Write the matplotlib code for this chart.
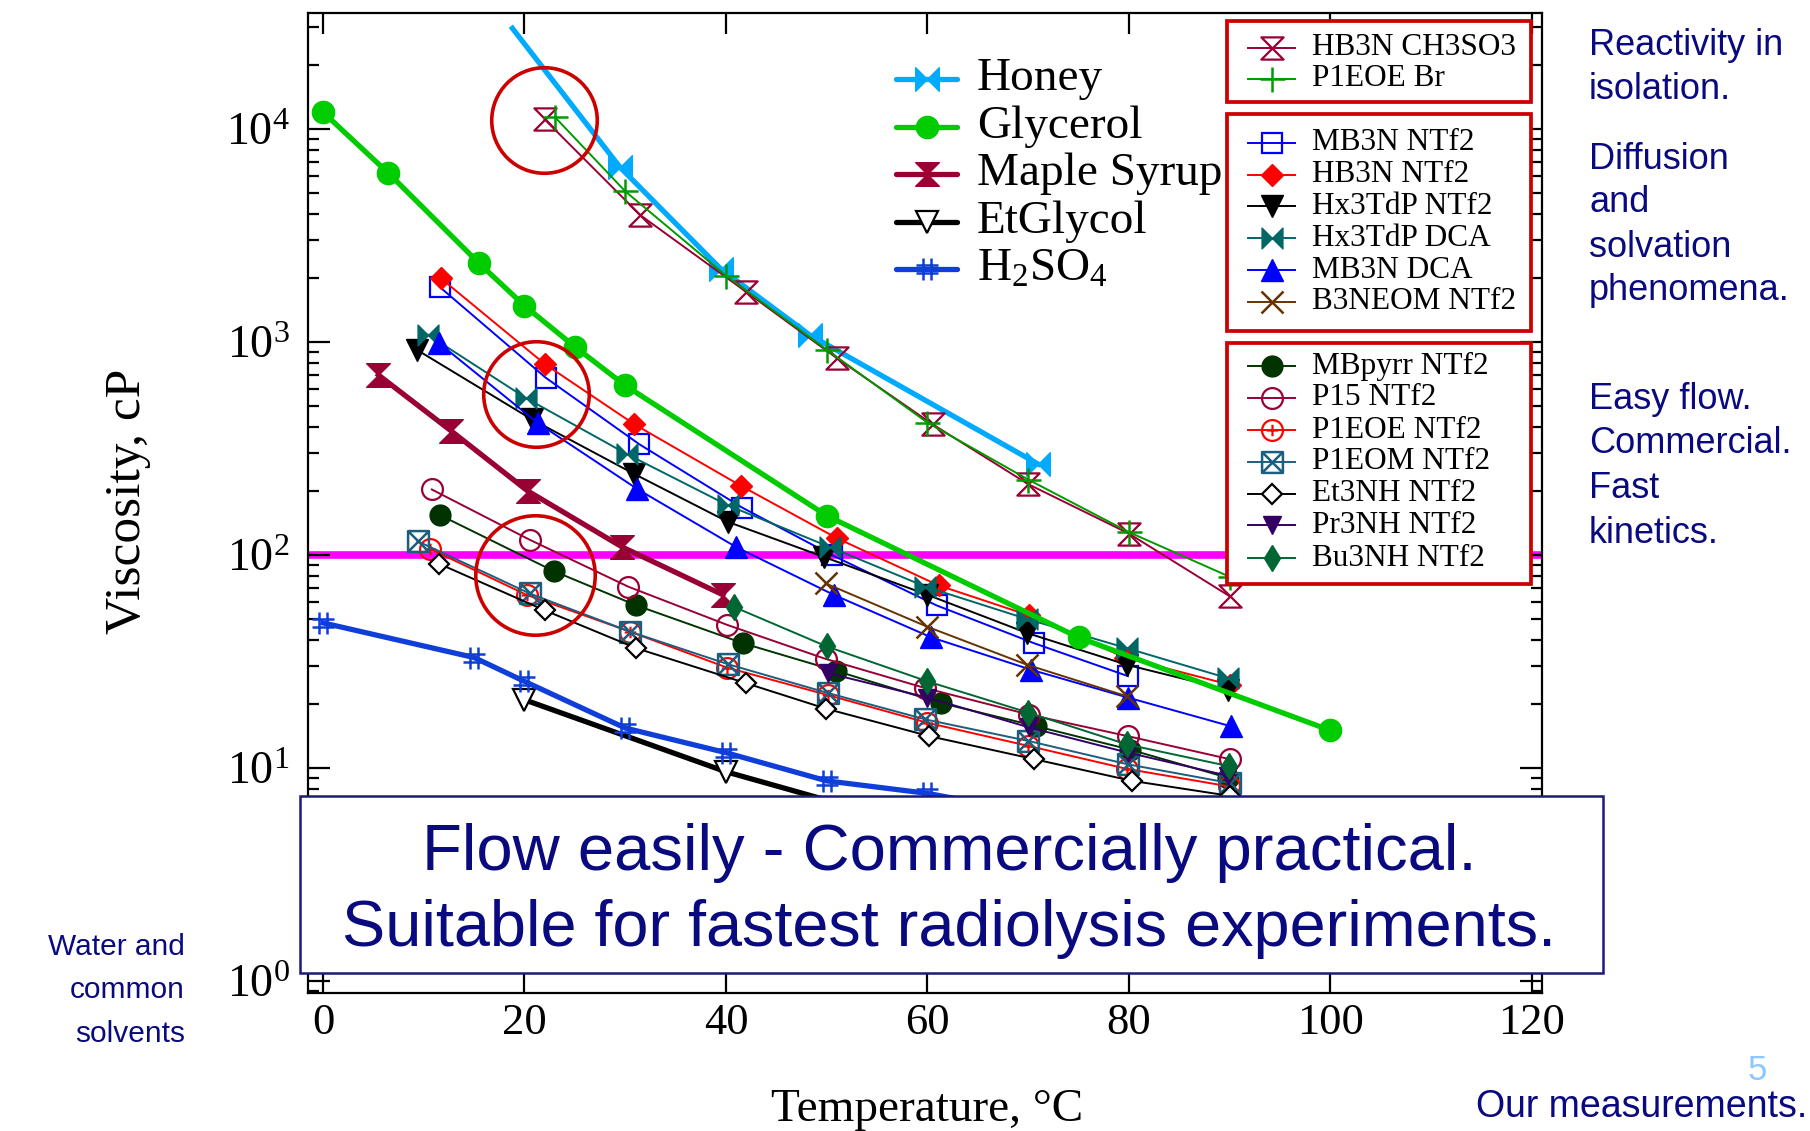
import numpy as np
import matplotlib
matplotlib.use("Agg")
import matplotlib.pyplot as plt
from matplotlib.path import Path
from matplotlib.lines import Line2D
from matplotlib.patches import Rectangle
from matplotlib.ticker import LogLocator, NullFormatter, NullLocator

plt.rcParams['font.family'] = ['Liberation Serif', 'DejaVu Serif']
plt.rcParams['mathtext.fontset'] = 'custom'
plt.rcParams['mathtext.rm'] = 'Liberation Serif'
plt.rcParams['mathtext.it'] = 'Liberation Serif:italic'
plt.rcParams['mathtext.bf'] = 'Liberation Serif:bold'
plt.rcParams['mathtext.default'] = 'rm'

# ---------------- data (temperature in C, viscosity in cP) ----------------
honey_T = [18.8, 29.5, 39.5, 48.3, 71.0]
honey_v = [29700, 6600, 2200, 1080, 267]
glycerol_T = [0, 6.5, 15.5, 20, 25, 30, 50, 75, 100]
glycerol_v = [12000, 6200, 2340, 1480, 950, 625, 153, 41, 15]
maple_T = [5.5, 12.7, 20.3, 29.7, 39.7]
maple_v = [700, 383, 200, 109, 65]
etglycol_T = [20, 40, 60, 80]
etglycol_v = [20.9, 9.6, 5.2, 3.3]
h2so4_T = [0, 15, 20, 30, 40, 50, 60, 70, 80]
h2so4_v = [48, 33, 25.5, 15.4, 11.8, 8.7, 7.6, 6.2, 5.2]

hb3n_ch3so3_T = [22, 31.5, 42, 51, 60.5, 70, 80, 90]
hb3n_ch3so3_v = [11100, 3940, 1720, 840, 411, 215, 126, 64]
p1eoe_br_T = [23, 30, 40, 50, 60, 70, 80, 90]
p1eoe_br_v = [11400, 5100, 2050, 920, 418, 226, 128, 79]

mb3n_ntf2_T = [11.6, 22.1, 31.4, 41.6, 50.5, 60.9, 70.6, 79.9]
mb3n_ntf2_v = [1810, 680, 331, 167, 100, 58, 38.5, 27]
hb3n_ntf2_T = [11.7, 22, 30.9, 41.5, 51, 61.1, 70.1, 79.6, 90]
hb3n_ntf2_v = [1990, 789, 411, 211, 120, 72, 52, 33, 24.6]
hx3tdp_ntf2_T = [9.3, 20.7, 30.9, 40.2, 49.7, 60, 69.9, 79.8, 89.8]
hx3tdp_ntf2_v = [920, 434, 240, 143, 98, 65, 43, 30.5, 23.3]
hx3tdp_dca_T = [10.4, 20.1, 30.2, 40.2, 50.3, 59.8, 69.9, 79.8, 89.8]
hx3tdp_dca_v = [1082, 547, 297, 171, 109, 71, 50, 36.5, 26.4]
mb3n_dca_T = [11.5, 21.3, 31.2, 41, 50.7, 60.4, 70.3, 79.9, 90.1]
mb3n_dca_v = [989, 417, 204, 109, 65, 41, 28.9, 21.4, 15.7]
b3neom_ntf2_T = [49.9, 60, 69.9, 79.8]
b3neom_ntf2_v = [73.5, 46, 30.5, 21.7]

mbpyrr_ntf2_T = [11.6, 22.9, 31.1, 41.7, 50.9, 61.3, 70.8, 80.1, 89.8]
mbpyrr_ntf2_v = [154, 84, 58, 38.5, 28.6, 20.2, 15.7, 12.2, 9.0]
p15_ntf2_T = [10.8, 20.5, 30.3, 40.1, 49.9, 59.8, 70.1, 79.9, 90]
p15_ntf2_v = [203, 118, 71, 47, 32.5, 23.7, 17.8, 14.1, 11]
p1eoe_ntf2_T = [10.6, 20.2, 30.5, 40.1, 50.1, 60, 70, 79.8, 89.9]
p1eoe_ntf2_v = [107, 65, 43.6, 29.6, 22, 16.3, 12.7, 9.9, 8.2]
p1eom_ntf2_T = [9.4, 20.5, 30.5, 40.2, 50.1, 59.8, 70, 79.9, 90]
p1eom_ntf2_v = [116, 66, 43.6, 30.7, 22.5, 16.9, 13.4, 10.4, 8.5]
et3nh_ntf2_T = [11.5, 22, 31.1, 42, 49.9, 60.2, 70.6, 80.3, 90]
et3nh_ntf2_v = [91, 55, 36.5, 25, 19, 14.1, 11, 8.7, 7.4]
pr3nh_ntf2_T = [50.1, 60, 70.1, 79.9, 89.8]
pr3nh_ntf2_v = [27.9, 21.4, 15.5, 11.8, 9.2]
bu3nh_ntf2_T = [40.8, 50, 60, 70, 79.8, 89.9]
bu3nh_ntf2_v = [57, 37.2, 25.5, 18.2, 12.9, 10.2]

threshold_v = 100
highlight_T = [21.9, 21.1, 21.0]
highlight_v = [11060, 570, 80.4]

xticks = [0, 20, 40, 60, 80, 100, 120]

# ---------------- markers ----------------
M, L, C = Path.MOVETO, Path.LINETO, Path.CLOSEPOLY
bowtie = Path([(-1, -1), (0, 0), (-1, 1), (-1, -1), (1, -1), (0, 0), (1, 1), (1, -1)],
              [M, L, L, C, M, L, L, C])
hourglass = Path([(-1, 1), (1, 1), (0, 0), (-1, 1), (-1, -1), (1, -1), (0, 0), (-1, -1)],
                 [M, L, L, C, M, L, L, C])
hashm = Path([(-0.35, -1), (-0.35, 1), (0.35, -1), (0.35, 1),
              (-1, -0.35), (1, -0.35), (-1, 0.35), (1, 0.35)], [M, L, M, L, M, L, M, L])
circ_plus = Path.make_compound_path(
    Path.unit_circle(),
    Path([(-0.55, 0), (0.55, 0), (0, -0.55), (0, 0.55)], [M, L, M, L]))
sq_x = Path([(-1, -1), (1, -1), (1, 1), (-1, 1), (-1, -1), (-1, -1), (1, 1), (-1, 1), (1, -1)],
            [M, L, L, L, C, M, L, M, L])

W, H = 1810, 1131
fig = plt.figure(figsize=(W / 100, H / 100), dpi=100)
ax = fig.add_axes([307.7 / W, 1 - 993 / H, (1542 - 307.7) / W, (993 - 12.6) / H])


def fx(px):
    return px / W


def fy(py):
    return 1 - py / H


thick = 3.8
thin = 1.4

ref_series = [
    ("Honey", honey_T, honey_v, dict(color='#00AAFF', marker=bowtie, ms=17, lw=thick, mfc='#00AAFF', mec='#00AAFF'), [1, 2, 3, 4]),
    ("Maple Syrup", maple_T, maple_v, dict(color='#990033', marker=hourglass, ms=17, lw=thick, mfc='#990033', mec='#990033'), None),
    ("EtGlycol", etglycol_T, etglycol_v, dict(color='black', marker='v', ms=16, lw=thick, mfc='white', mec='black', mew=1.6), None),
    ("H$_2$SO$_4$", h2so4_T, h2so4_v, dict(color='#0F3FD8', marker=hashm, ms=16, lw=thick, mfc='none', mec='#0F3FD8', mew=1.8), None),
]
glyc = ("Glycerol", glycerol_T, glycerol_v, dict(color='#00CC00', marker='o', ms=16, lw=thick, mfc='#00CC00', mec='#00CC00'), None)

box1 = [
    ("HB3N CH3SO3", hb3n_ch3so3_T, hb3n_ch3so3_v, dict(color='#990033', marker=hourglass, ms=16, mfc='none', mec='#990033', mew=1.6)),
    ("P1EOE Br", p1eoe_br_T, p1eoe_br_v, dict(color='#009900', marker='+', ms=18, mec='#009900', mew=1.8)),
]
box2 = [
    ("MB3N NTf2", mb3n_ntf2_T, mb3n_ntf2_v, dict(color='#0000FF', marker='s', ms=14, mfc='none', mec='#0000FF', mew=1.6)),
    ("HB3N NTf2", hb3n_ntf2_T, hb3n_ntf2_v, dict(color='#FF0000', marker='D', ms=11.5, mfc='#FF0000', mec='#FF0000')),
    ("Hx3TdP NTf2", hx3tdp_ntf2_T, hx3tdp_ntf2_v, dict(color='black', marker='v', ms=16, mfc='black', mec='black')),
    ("Hx3TdP DCA", hx3tdp_dca_T, hx3tdp_dca_v, dict(color='#006666', marker=bowtie, ms=15, mfc='#006666', mec='#006666')),
    ("MB3N DCA", mb3n_dca_T, mb3n_dca_v, dict(color='#0000FF', marker='^', ms=16, mfc='#0000FF', mec='#0000FF')),
    ("B3NEOM NTf2", b3neom_ntf2_T, b3neom_ntf2_v, dict(color='#663300', marker='x', ms=16, mec='#663300', mew=1.8)),
]
box3 = [
    ("MBpyrr NTf2", mbpyrr_ntf2_T, mbpyrr_ntf2_v, dict(color='#003300', marker='o', ms=15, mfc='#003300', mec='#003300')),
    ("P15 NTf2", p15_ntf2_T, p15_ntf2_v, dict(color='#990033', marker='o', ms=15, mfc='none', mec='#990033', mew=1.6)),
    ("P1EOE NTf2", p1eoe_ntf2_T, p1eoe_ntf2_v, dict(color='#FF0000', marker=circ_plus, ms=15, mfc='none', mec='#FF0000', mew=1.6)),
    ("P1EOM NTf2", p1eom_ntf2_T, p1eom_ntf2_v, dict(color='#1B5E7E', marker=sq_x, ms=15, mfc='none', mec='#1B5E7E', mew=1.8)),
    ("Et3NH NTf2", et3nh_ntf2_T, et3nh_ntf2_v, dict(color='black', marker='D', ms=10.5, mfc='white', mec='black', mew=1.6)),
    ("Pr3NH NTf2", pr3nh_ntf2_T, pr3nh_ntf2_v, dict(color='#330066', marker='v', ms=13, mfc='#330066', mec='#330066')),
    ("Bu3NH NTf2", bu3nh_ntf2_T, bu3nh_ntf2_v, dict(color='#006633', marker='d', ms=13, mfc='#006633', mec='#006633')),
]

# threshold line
ax.axhline(threshold_v, color='#FF00FF', lw=5.5, zorder=1.5)

for name, T, v, st, mev in ref_series:
    ax.plot(T, v, markevery=mev, zorder=2, **st)
for grp in (box1, box2, box3):
    for name, T, v, st in grp:
        ax.plot(T, v, lw=thin, zorder=2, **st)
name, T, v, st, mev = glyc
ax.plot(T, v, zorder=2.05, **st)

# highlight circles
for t, val, ms in zip(highlight_T, highlight_v, [76, 76, 86]):
    ax.plot([t], [val], 'o', ms=ms, mfc='none', mec='#CC0000', mew=2.6, zorder=3)

ax.set_yscale('log')
ax.set_xlim(-1.52, 121.0)
ax.set_ylim(0.878, 35200)
ax.set_xticks(xticks)
ax.xaxis.set_minor_locator(NullLocator())
ax.yaxis.set_major_locator(LogLocator(base=10, numticks=10))
ax.yaxis.set_minor_locator(LogLocator(base=10, subs=np.arange(2, 10), numticks=100))
ax.yaxis.set_minor_formatter(NullFormatter())
ax.tick_params(which='both', direction='in', top=True, right=True, width=1.6, colors='black')
ax.tick_params(axis='x', which='major', length=15, pad=7, labelsize=32)
ax.tick_params(axis='y', which='major', length=16, pad=13, labelsize=33)
ax.tick_params(axis='y', which='minor', length=8)
for sp in ax.spines.values():
    sp.set_linewidth(1.6)

# axis labels
fig.text(fx(128), fy(501), "Viscosity, cP", rotation=90, fontsize=37, ha='center', va='center')
fig.text(fx(927), fy(1121), "Temperature, \u00b0C", fontsize=34, ha='center', va='baseline')

# ---------------- left legend (reference liquids) ----------------
left_entries = [ref_series[0], glyc, ref_series[1], ref_series[2], ref_series[3]]
left_rows = [79, 126.7, 174, 221.7, 269.3]
for (name, T, v, st, mev), yy in zip(left_entries, left_rows):
    ln = Line2D([fx(895.7), fx(926.5), fx(957.3)], [fy(yy)] * 3, transform=fig.transFigure,
                markevery=[1], clip_on=False, zorder=2.3, solid_capstyle='round', **st)
    ax.add_line(ln)
    ax.text(fx(976.7), fy(yy), name, fontsize=34, ha='left', va='center',
            transform=fig.transFigure, zorder=2.3)

# ---------------- boxed legends ----------------
boxes = [(box1, 21, 102.4, [47.8, 79]),
         (box2, 113.9, 330.5, [142.5, 174.6, 206.3, 238, 270, 301.9]),
         (box3, 342.8, 583.9, [366, 398, 430, 461.6, 493.7, 525.4, 558])]
for grp, top, bot, rows in boxes:
    rect = Rectangle((fx(1226.8), fy(bot)), fx(1530.5) - fx(1226.8), fy(top) - fy(bot),
                     transform=fig.transFigure, facecolor='white', edgecolor='#CC0000',
                     lw=2.7, zorder=2.2, clip_on=False)
    ax.add_patch(rect)
    for (name, T, v, st), yy in zip(grp, rows):
        ln = Line2D([fx(1248), fx(1271.7), fx(1295.3)], [fy(yy)] * 3, transform=fig.transFigure,
                    markevery=[1], lw=thin, clip_on=False, zorder=2.3, **st)
        ax.add_line(ln)
        ax.text(fx(1311.5), fy(yy), name, fontsize=22.5, ha='left', va='center',
                transform=fig.transFigure, zorder=2.3)

# ---------------- annotation texts ----------------
navy = '#0A0A80'
sans = ['Liberation Sans', 'DejaVu Sans']
right_lines = [("Reactivity in", 55.4), ("isolation.", 99.4),
               ("Diffusion", 169.3), ("and", 212.5), ("solvation", 256.5), ("phenomena.", 300),
               ("Easy flow.", 409), ("Commercial.", 453), ("Fast", 498.5), ("kinetics.", 542.6)]
for s, yy in right_lines:
    fig.text(fx(1589), fy(yy), s, fontsize=26, color=navy, family=sans, ha='left', va='baseline')

for s, yy in [("Water and", 955), ("common", 998), ("solvents", 1042)]:
    fig.text(fx(185), fy(yy), s, fontsize=21.5, color=navy, family=sans, ha='right', va='baseline')

fig.text(fx(1757), fy(1080), "5", fontsize=25, color='#8CC8FF', family=sans, ha='center', va='baseline')
fig.text(fx(1807), fy(1117), "Our measurements.", fontsize=27, color=navy, family=sans,
         ha='right', va='baseline')

# big message box
big = Rectangle((fx(300), fy(973)), fx(1603) - fx(300), fy(796) - fy(973), transform=fig.transFigure,
                facecolor='white', edgecolor='#1A1A7A', lw=1.8, zorder=5)
fig.add_artist(big)
fig.text(fx(949.5), fy(870), "Flow easily - Commercially practical.", fontsize=47, color=navy,
         family=sans, ha='center', va='baseline', zorder=6)
fig.text(fx(949), fy(945.7), "Suitable for fastest radiolysis experiments.", fontsize=46.6, color=navy,
         family=sans, ha='center', va='baseline', zorder=6)

fig.savefig("out.png", dpi=100)
